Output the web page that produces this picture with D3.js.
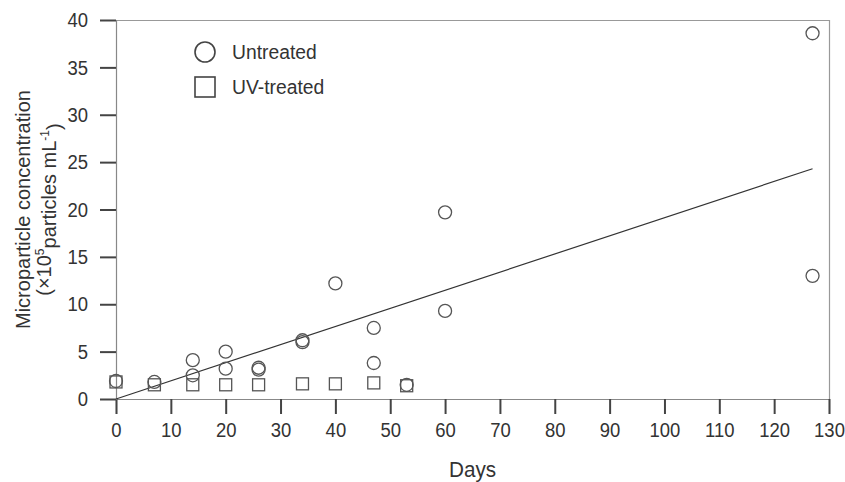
<!DOCTYPE html>
<html>
<head>
<meta charset="utf-8">
<script src="https://cdn.jsdelivr.net/npm/d3@7"></script>
<style>
  html, body { margin: 0; padding: 0; background: #fff; }
  svg { display: block; font-family: "Liberation Sans", Arial, Helvetica, sans-serif; }
</style>
</head>
<body>
<svg id="chart" width="845" height="482"></svg>
<script>
// ---- Data ----
const untreatedDays = [0, 7, 14, 14, 20, 20, 26, 26, 34, 34, 40, 47, 47, 53, 60, 60, 127, 127];
const untreatedConc = [1.9, 1.8, 4.1, 2.5, 5.0, 3.2, 3.3, 3.1, 6.2, 6.0, 12.2, 7.5, 3.8, 1.5, 19.7, 9.3, 38.6, 13.0];
const uvDays = [0, 7, 14, 20, 26, 34, 40, 47, 53];
const uvConc = [1.8, 1.5, 1.5, 1.5, 1.5, 1.6, 1.6, 1.7, 1.4];
const fitDays = [0, 127];
const fitConc = [0, 24.3];
const xTicks = [0, 10, 20, 30, 40, 50, 60, 70, 80, 90, 100, 110, 120, 130];
const yTicks = [0, 5, 10, 15, 20, 25, 30, 35, 40];
const legendLabels = ["Untreated", "UV-treated"];

// ---- Layout ----
const svg = d3.select("#chart");
const mLeft = 116, mRight = 829, mTop = 20, mBottom = 399;
const x = d3.scaleLinear().domain([0, 130]).range([mLeft, mRight]);
const y = d3.scaleLinear().domain([0, 40]).range([mBottom, mTop]);
const markStroke = "#555";
const textColor = "#333";
const tickK = 0.88;   // horizontal condensing of the tick font

// frame (top and right)
svg.append("path")
  .attr("d", `M${mLeft},${mTop + 0.5}H${mRight + 0.5}V${mBottom}`)
  .attr("fill", "none").attr("stroke", "#999").attr("stroke-width", 1.2);

// x axis
const xAxis = svg.append("g")
  .attr("transform", `translate(0,${mBottom})`)
  .call(d3.axisBottom(x).tickValues(xTicks).tickSize(15).tickPadding(8).tickFormat(d3.format("d")));
xAxis.select(".domain").attr("stroke", "#888").attr("stroke-width", 1.2);
xAxis.selectAll(".tick line").attr("stroke", "#444").attr("stroke-width", 2);
xAxis.selectAll(".tick text").attr("fill", textColor).attr("font-size", 21)
  .attr("font-family", "Liberation Sans, Arial, sans-serif")
  .attr("transform", `scale(${tickK},1)`);

// y axis
const yAxis = svg.append("g")
  .attr("transform", `translate(${mLeft},0)`)
  .call(d3.axisLeft(y).tickValues(yTicks).tickSize(16).tickPadding(12).tickFormat(d3.format("d")));
yAxis.select(".domain").attr("stroke", "#888").attr("stroke-width", 1.2);
yAxis.selectAll(".tick line").attr("stroke", "#444").attr("stroke-width", 2);
yAxis.selectAll(".tick text").attr("fill", textColor).attr("font-size", 21)
  .attr("font-family", "Liberation Sans, Arial, sans-serif")
  .attr("x", -28 / tickK)
  .attr("transform", `scale(${tickK},1)`);

// regression line
svg.append("path")
  .datum(fitDays.map((d, i) => [d, fitConc[i]]))
  .attr("d", d3.line().x(d => x(d[0])).y(d => y(d[1])))
  .attr("fill", "none").attr("stroke", "#333").attr("stroke-width", 1.2);

// UV-treated squares
const sq = 12;
svg.append("g").selectAll("rect")
  .data(uvDays.map((d, i) => [d, uvConc[i]]))
  .join("rect")
  .attr("x", d => x(d[0]) - sq / 2)
  .attr("y", d => y(d[1]) - sq / 2)
  .attr("width", sq).attr("height", sq)
  .attr("fill", "none").attr("stroke", markStroke).attr("stroke-width", 1.3);

// Untreated circles
svg.append("g").selectAll("circle")
  .data(untreatedDays.map((d, i) => [d, untreatedConc[i]]))
  .join("circle")
  .attr("cx", d => x(d[0]))
  .attr("cy", d => y(d[1]))
  .attr("r", 6.5)
  .attr("fill", "none").attr("stroke", markStroke).attr("stroke-width", 1.3);

// legend
const lg = svg.append("g");
lg.append("circle").attr("cx", 205).attr("cy", 52).attr("r", 10)
  .attr("fill", "none").attr("stroke", "#444").attr("stroke-width", 1.6);
lg.append("rect").attr("x", 195).attr("y", 77).attr("width", 20).attr("height", 20)
  .attr("fill", "none").attr("stroke", "#444").attr("stroke-width", 1.6);
lg.selectAll("text").data(legendLabels).join("text")
  .attr("transform", (d, i) => `translate(232,${52 + i * 35}) scale(0.92,1)`)
  .attr("dy", "0.35em")
  .attr("font-size", 21).attr("fill", textColor)
  .text(d => d);

// axis titles
svg.append("text")
  .attr("transform", `translate(${(mLeft + mRight) / 2},469) scale(0.94,1)`)
  .attr("dy", "0.35em")
  .attr("text-anchor", "middle").attr("font-size", 22).attr("fill", textColor)
  .text("Days");

const yc = (mTop + mBottom) / 2;
svg.append("text")
  .attr("transform", `translate(23,${yc}) rotate(-90)`)
  .attr("text-anchor", "middle").attr("dy", "0.35em")
  .attr("font-size", 20).attr("fill", textColor)
  .text("Microparticle concentration");

const t2 = svg.append("text")
  .attr("transform", `translate(44,${yc}) rotate(-90)`)
  .attr("text-anchor", "middle").attr("dy", "0.35em")
  .attr("font-size", 20).attr("fill", textColor);
t2.append("tspan").text("(×10");
t2.append("tspan").attr("font-size", 12).attr("dy", "-0.6em").text("5");
t2.append("tspan").attr("dy", "0.6em").text("particles mL");
t2.append("tspan").attr("font-size", 12).attr("dy", "-0.6em").text("-1");
t2.append("tspan").attr("dy", "0.6em").text(")");
</script>
</body>
</html>
